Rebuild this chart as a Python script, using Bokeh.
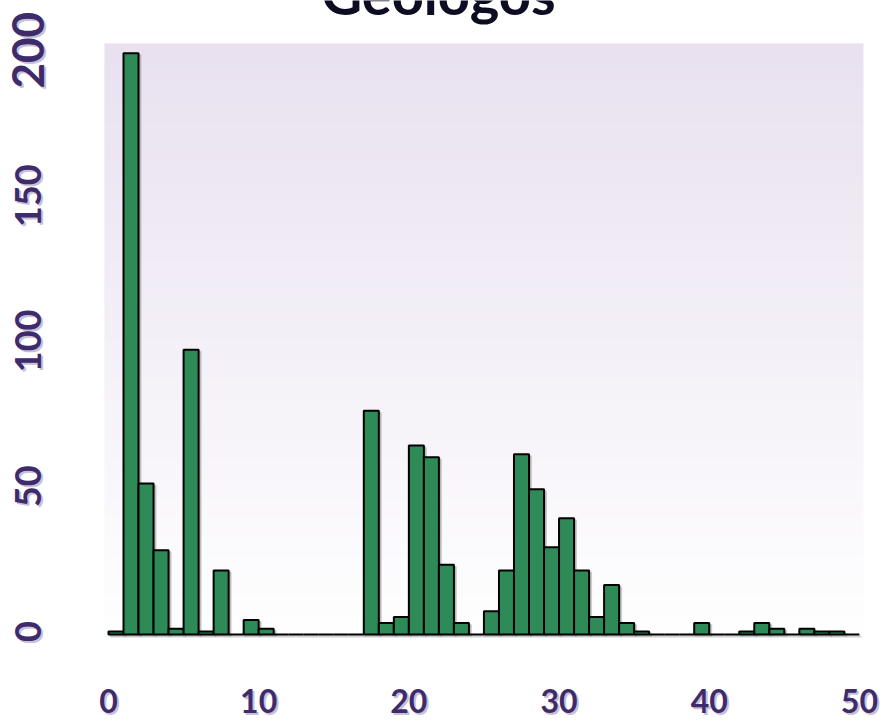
import numpy as np
from math import pi
from bokeh.plotting import figure
from bokeh.models import Range1d
from bokeh.core.properties import value
from bokeh.embed import file_html
from bokeh.resources import INLINE

# ---- data ----
bin_left = [0, 1, 2, 3, 4, 5, 6, 7, 8, 9,
            10, 11, 12, 13, 14, 15, 16, 17, 18, 19,
            20, 21, 22, 23, 24, 25, 26, 27, 28, 29,
            30, 31, 32, 33, 34, 35, 36, 37, 38, 39,
            40, 41, 42, 43, 44, 45, 46, 47, 48, 49]
bin_right = [b + 1 for b in bin_left]
counts = [1, 200, 52, 29, 2, 98, 1, 22, 0, 5,
          2, 0, 0, 0, 0, 0, 0, 77, 4, 6,
          65, 61, 24, 4, 0, 8, 22, 62, 50, 30,
          40, 22, 6, 17, 4, 1, 0, 0, 0, 4,
          0, 0, 1, 4, 2, 0, 2, 1, 1, 0]
x_ticks = [0, 10, 20, 30, 40, 50]
y_ticks = [0, 50, 100, 150, 200]
x_tick_labels = ["0", "10", "20", "30", "40", "50"]
y_tick_labels = ["0", "50", "100", "150", "200"]
title_text = "Geologos"

# ---- styles / layout ----
W, H = 883, 723
BAR_FILL = "#2e8b57"
LABEL_COLOR = "#3d2b6b"
SHADOW_COLOR = "#c9c0d6"
BAR_SHADOW = "#9a9a9a"
FONT = "Lato"
PX_X = 15.018          # pixels per x unit
PX_Y = 2.906           # pixels per y unit
X0_PX, Y0_PX = 108, 634  # canvas position of the data origin
X_LABEL_PX = 700       # canvas y of the x tick label anchor
Y_LABEL_PX = 27        # canvas x of the y tick label anchor
TITLE_PX = -7          # canvas y of the title anchor (title is cut by the top edge)

# the frame covers the whole canvas so that the title and tick labels
# (which sit outside the plot area) are drawn through the same scales
xr = Range1d(-X0_PX / PX_X, (W - X0_PX) / PX_X)
yr = Range1d(-(H - Y0_PX) / PX_Y, Y0_PX / PX_Y)

# plot area in data units
ax0, ax1 = -0.27, 50.27
ay0, ay1 = -1.0, 203.4

p = figure(width=W, height=H, output_backend="svg", toolbar_location=None,
           x_range=xr, y_range=yr, min_border=0,
           min_border_left=0, min_border_right=0, min_border_top=0, min_border_bottom=0)
p.axis.visible = False
p.grid.visible = False
p.outline_line_color = None
p.background_fill_color = "white"
p.border_fill_color = "white"

# gradient background of the plot area (lavender at top -> white at bottom)
n = 256
top_rgb = np.array([0xe9, 0xe1, 0xf0], dtype=float)
bot_rgb = np.array([0xff, 0xff, 0xff], dtype=float)
t = np.linspace(0, 1, n)[:, None]
rgb = (bot_rgb * (1 - t) + top_rgb * t).astype(np.uint32)
img = np.empty((n, 1), dtype=np.uint32)
v = img.view(dtype=np.uint8).reshape((n, 1, 4))
v[:, 0, 0] = rgb[:, 0]
v[:, 0, 1] = rgb[:, 1]
v[:, 0, 2] = rgb[:, 2]
v[:, 0, 3] = 255
p.image_rgba(image=[img], x=ax0, y=ay0, dw=ax1 - ax0, dh=ay1 - ay0)

# soft bar shadows (2 px right/down)
sdx, sdy = 2 / PX_X, 2 / PX_Y
p.quad(left=[b + sdx for b in bin_left], right=[b + sdx for b in bin_right],
       bottom=-sdy, top=[c - sdy for c in counts],
       fill_color=BAR_SHADOW, fill_alpha=0.45, line_color=BAR_SHADOW, line_alpha=0.45,
       line_width=2)
# bars
p.quad(left=bin_left, right=bin_right, bottom=0, top=counts,
       fill_color=BAR_FILL, line_color="black", line_width=2)

# x tick labels (with light shadow)
x_lab_y = -(X_LABEL_PX - Y0_PX) / PX_Y
p.text(x=[x + sdx for x in x_ticks], y=x_lab_y - sdy, text=x_tick_labels,
       text_font=value(FONT), text_font_style="bold", text_font_size="32px",
       text_color=SHADOW_COLOR, text_align="center", text_baseline="alphabetic")
p.text(x=x_ticks, y=x_lab_y, text=x_tick_labels,
       text_font=value(FONT), text_font_style="bold", text_font_size="32px",
       text_color=LABEL_COLOR, text_align="center", text_baseline="alphabetic")

# y tick labels, rotated (with light shadow)
y_lab_x = (Y_LABEL_PX - X0_PX) / PX_X
y_sizes = ["36px", "36px", "36px", "36px", "44px"]
y_lab_y = [y + 3 / PX_Y for y in y_ticks]
p.text(x=y_lab_x + sdx, y=[y - sdy for y in y_lab_y], text=y_tick_labels, angle=pi / 2,
       text_font=value(FONT), text_font_style="bold", text_font_size=y_sizes,
       text_color=SHADOW_COLOR, text_align="center", text_baseline="alphabetic")
p.text(x=y_lab_x, y=y_lab_y, text=y_tick_labels, angle=pi / 2,
       text_font=value(FONT), text_font_style="bold", text_font_size=y_sizes,
       text_color=LABEL_COLOR, text_align="center", text_baseline="alphabetic")

# title (cut off at the top edge, as in the reference)
p.text(x=[(438 - X0_PX) / PX_X], y=[(Y0_PX - TITLE_PX) / PX_Y], text=[title_text],
       text_font=value(FONT), text_font_style="bold", text_font_size="56px",
       text_color="#0c0c22", text_align="center", text_baseline="alphabetic")

open("out.html", "w").write(file_html(p, INLINE))
